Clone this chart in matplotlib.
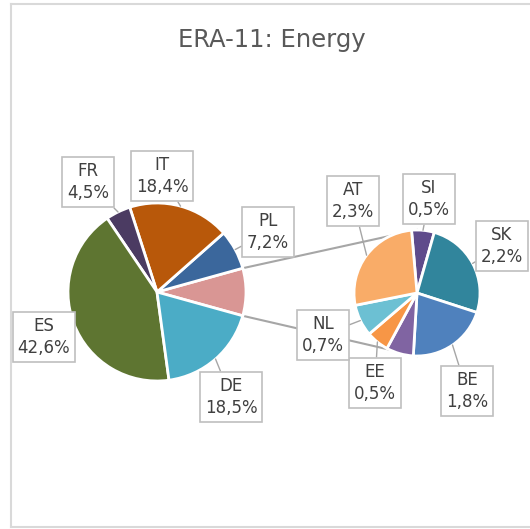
import numpy as np
import matplotlib.pyplot as plt

# Shares shown directly in the main pie (counter-clockwise after the grouped slice)
main_countries = ['PL', 'IT', 'FR', 'ES', 'DE']
main_shares = [7.2, 18.4, 4.5, 42.6, 18.5]
main_colors = ['#3B679C', '#B8580A', '#4B3B62', '#5E7531', '#4BACC6']
group_color = '#D99694'

# Small shares broken out into the secondary pie (clockwise from the top)
small_countries = ['SI', 'SK', 'BE', '', 'EE', 'NL', 'AT']
small_shares = [0.5, 2.2, 1.8, 0.6, 0.5, 0.7, 2.3]
small_colors = ['#5F4B8B', '#31859C', '#4F81BD', '#8064A2', '#F79646', '#6CC0D3', '#F9AC68']

W, H = 530, 529
fig = plt.figure(figsize=(W / 100, H / 100), dpi=100)
ax = fig.add_axes([0, 0, 1, 1])


def py(y):
    # pixel rows are measured from the top
    return H - y


c1, r1 = (157, py(292)), 89
c2, r2 = (417, py(293)), 63

group_share = sum(small_shares)
total = group_share + sum(main_shares)
start1 = -group_share / total * 360 / 2

wedges1, _ = ax.pie([group_share] + main_shares, colors=[group_color] + main_colors,
                    center=c1, radius=r1, startangle=start1, counterclock=True,
                    wedgeprops=dict(edgecolor='white', linewidth=2))
wedges2, _ = ax.pie(small_shares, colors=small_colors, center=c2, radius=r2,
                    startangle=95, counterclock=False,
                    wedgeprops=dict(edgecolor='white', linewidth=2))
for w in wedges1 + wedges2:
    w.set_zorder(3)

# connector lines from the grouped slice to the secondary pie
g = wedges1[0]
for ang, yy in [(g.theta2, c2[1] + r2), (g.theta1, c2[1] - r2)]:
    x0 = c1[0] + r1 * np.cos(np.radians(ang))
    y0 = c1[1] + r1 * np.sin(np.radians(ang))
    ax.plot([x0, c2[0]], [y0, yy], color='#A6A6A6', lw=1.5, zorder=1)

# label box centres (pixels)
main_pos = {'PL': (268, 232), 'IT': (162, 176), 'FR': (88, 182),
            'ES': (44, 337), 'DE': (231, 397)}
small_pos = {'SI': (429, 199), 'SK': (502, 246), 'BE': (467, 391),
             'EE': (375, 383), 'NL': (323, 335), 'AT': (353, 201)}


def label(wedge, center, r, name, value, pos, leader=True):
    mid = np.radians((wedge.theta1 + wedge.theta2) / 2)
    tip = (center[0] + r * np.cos(mid), center[1] + r * np.sin(mid))
    txt = f"{name}\n{value:.1f}%".replace('.', ',')
    ax.annotate(txt, xy=tip, xytext=(pos[0], py(pos[1])), ha='center', va='center',
                fontsize=12, color='#404040', linespacing=1.35, zorder=5,
                bbox=dict(boxstyle='square,pad=0.3', fc='white', ec='#BFBFBF', lw=1.2),
                arrowprops=dict(arrowstyle='-', color='#A6A6A6', lw=1,
                                shrinkA=0, shrinkB=0) if leader else None)


for w, name, val in zip(wedges1[1:], main_countries, main_shares):
    label(w, c1, r1, name, val, main_pos[name], leader=(name != 'ES'))
for w, name, val in zip(wedges2, small_countries, small_shares):
    if name:
        label(w, c2, r2, name, val, small_pos[name])

ax.text(272, py(40), 'ERA-11: Energy', ha='center', va='center',
        fontsize=17.5, color='#595959')

# chart area border
bc = '#D9D9D9'
ax.plot([11, 11], [py(4), py(527)], color=bc, lw=1.5)
ax.plot([11, W], [py(4), py(4)], color=bc, lw=1.5)
ax.plot([11, W], [py(527), py(527)], color=bc, lw=1.5)

ax.set_xlim(0, W)
ax.set_ylim(0, H)
ax.set_aspect('auto')
ax.axis('off')

fig.savefig('out.png', dpi=100, facecolor='white')
